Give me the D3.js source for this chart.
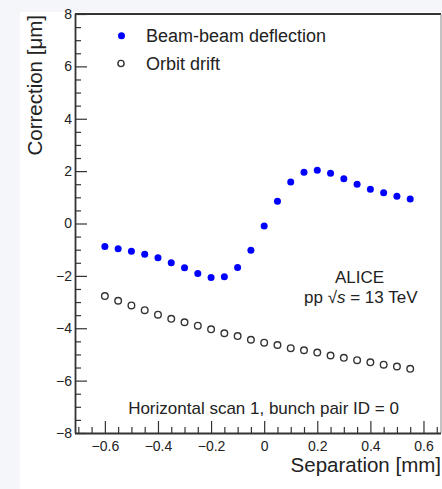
<!DOCTYPE html>
<html><head><meta charset="utf-8">
<script src="https://cdn.jsdelivr.net/npm/d3@7"></script>
<style>
html,body{margin:0;padding:0;background:#f4f6f9;}
svg{display:block;}
text{font-family:"Liberation Sans",Arial,Helvetica,sans-serif;fill:#222;}
</style></head>
<body>
<svg id="chart" width="442" height="489"></svg>
<script>
const separation = [-0.6,-0.55,-0.5,-0.45,-0.4,-0.35,-0.3,-0.25,-0.2,-0.15,-0.1,-0.05,0,0.05,0.1,0.15,0.2,0.25,0.3,0.35,0.4,0.45,0.5,0.55];
const beamBeam = [-0.88,-0.96,-1.06,-1.17,-1.31,-1.50,-1.69,-1.91,-2.06,-2.03,-1.68,-1.02,-0.10,0.85,1.58,1.96,2.03,1.92,1.71,1.50,1.31,1.17,1.04,0.94];
const orbitDrift = [-2.77,-2.95,-3.13,-3.31,-3.48,-3.64,-3.77,-3.90,-4.04,-4.19,-4.30,-4.44,-4.55,-4.64,-4.76,-4.84,-4.93,-5.04,-5.13,-5.22,-5.30,-5.39,-5.46,-5.55];
const xTicks = [-0.6,-0.4,-0.2,0,0.2,0.4,0.6];
const yTicks = [-8,-6,-4,-2,0,2,4,6,8];
const seriesNames = ["Beam-beam deflection","Orbit drift"];

const svg = d3.select("#chart");
svg.append("rect").attr("x",20).attr("y",12).attr("width",422).attr("height",477).attr("fill","#fff");

const L=75, R=441, T=14, B=433;
const x = d3.scaleLinear().domain([-0.7125,0.666]).range([L,R]);
const y = d3.scaleLinear().domain([-8,8]).range([B,T]);

// frame
svg.append("line").attr("x1",L).attr("x2",R).attr("y1",T).attr("y2",T).attr("stroke","#333").attr("stroke-width",2);
svg.append("line").attr("x1",R).attr("x2",R).attr("y1",T).attr("y2",B).attr("stroke","#888").attr("stroke-width",1);

// minor ticks
const xMinor = d3.range(-0.7,0.67,0.05).map(v=>Math.round(v*100)/100).filter(v=>!xTicks.some(t=>Math.abs(t-v)<1e-6));
const yMinor = d3.range(-8,8.01,0.5).filter(v=>!yTicks.includes(v));

const gxm = svg.append("g").attr("transform",`translate(0,${B})`)
  .call(d3.axisBottom(x).tickValues(xMinor).tickSize(-6).tickFormat(""));
const gym = svg.append("g").attr("transform",`translate(${L},0)`)
  .call(d3.axisLeft(y).tickValues(yMinor).tickSize(-6).tickFormat(""));
[gxm,gym].forEach(g=>{g.select(".domain").remove(); g.selectAll("line").attr("stroke","#333").attr("stroke-width",1.2);});

const gx = svg.append("g").attr("transform",`translate(0,${B})`)
  .call(d3.axisBottom(x).tickValues(xTicks).tickSize(-12).tickPadding(5).tickFormat(d3.format(".1f")).tickSizeOuter(0));
gx.select(".domain").attr("d",`M${L},0.5H${R}`).attr("stroke","#333").attr("stroke-width",1.8);
gx.selectAll(".tick line").attr("stroke","#333").attr("stroke-width",1.2);
gx.selectAll(".tick text").attr("font-size",14).attr("fill","#222").attr("y",8).attr("dy","0.71em")
  .text(d=>d===0?"0":d3.format(".1f")(d));

const gy = svg.append("g").attr("transform",`translate(${L},0)`)
  .call(d3.axisLeft(y).tickValues(yTicks).tickSize(-12).tickPadding(4).tickSizeOuter(0));
gy.select(".domain").attr("d",`M0.5,${T}V${B}`).attr("stroke","#333").attr("stroke-width",1.8);
gy.selectAll(".tick line").attr("stroke","#333").attr("stroke-width",1.2);
gy.selectAll(".tick text").attr("font-size",14).attr("fill","#222").attr("x",-3);

svg.selectAll("g text").style("font-family",'"Liberation Sans",Arial,sans-serif');

// data
const data1 = separation.map((s,i)=>({s, v:beamBeam[i]}));
const data2 = separation.map((s,i)=>({s, v:orbitDrift[i]}));
svg.append("g").selectAll("circle").data(data2).join("circle")
  .attr("cx",d=>x(d.s)).attr("cy",d=>y(d.v)).attr("r",3.3)
  .attr("fill","none").attr("stroke","#333").attr("stroke-width",1.4);
svg.append("g").selectAll("circle").data(data1).join("circle")
  .attr("cx",d=>x(d.s)).attr("cy",d=>y(d.v)).attr("r",3.5)
  .attr("fill","#0000ff");

// legend
svg.append("circle").attr("cx",121.5).attr("cy",35.7).attr("r",3.5).attr("fill","#0000ff");
svg.append("circle").attr("cx",121).attr("cy",63.5).attr("r",3.1).attr("fill","none").attr("stroke","#333").attr("stroke-width",1.4);
svg.append("text").attr("x",146).attr("y",42).attr("font-size",18).text(seriesNames[0]);
svg.append("text").attr("x",146).attr("y",70).attr("font-size",18).text(seriesNames[1]);

// axis titles
svg.append("text").attr("x",R).attr("y",472).attr("text-anchor","end").attr("font-size",20.5).text("Separation [mm]");
svg.append("text").attr("transform","translate(42,15) rotate(-90)").attr("text-anchor","end").attr("font-size",20.5).text("Correction [μm]");

// annotations
svg.append("text").attr("x",359.5).attr("y",282.5).attr("text-anchor","middle").attr("font-size",17).text("ALICE");
const t2 = svg.append("text").attr("x",304).attr("y",303).attr("font-size",17);
t2.append("tspan").text("pp ");
t2.append("tspan").text("√");
t2.append("tspan").attr("font-style","italic").text("s");
t2.append("tspan").text(" = 13 TeV");
svg.append("text").attr("x",263.5).attr("y",414).attr("text-anchor","middle").attr("font-size",17).text("Horizontal scan 1, bunch pair ID = 0");
</script>
</body></html>
